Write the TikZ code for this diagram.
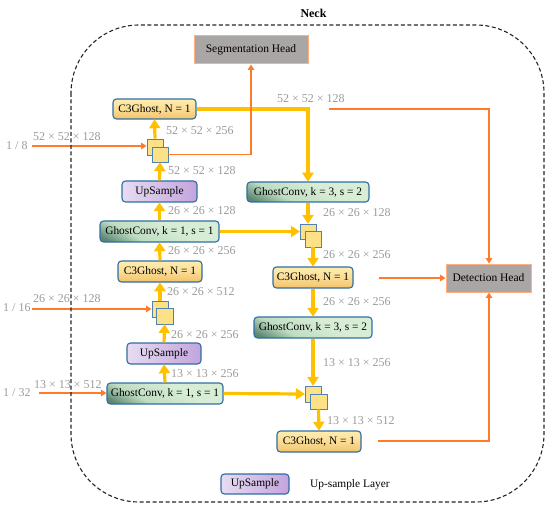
\documentclass[tikz,border=0pt]{standalone}
\usepackage{fontspec}
\setmainfont{Liberation Serif}
\usetikzlibrary{arrows.meta}
\definecolor{yel}{HTML}{FFC000}
\definecolor{ora}{HTML}{FF7A2B}
\definecolor{edgeblue}{HTML}{2F6EA5}
\definecolor{greytxt}{HTML}{9A9A9A}
\definecolor{gA}{HTML}{5A8570}
\definecolor{gB}{HTML}{BFDDC2}
\definecolor{gC}{HTML}{D8EDD6}
\definecolor{oA}{HTML}{F3C36B}
\definecolor{oB}{HTML}{FFEDB0}
\definecolor{pA}{HTML}{C3A4DC}
\definecolor{pB}{HTML}{E6DCF2}
\definecolor{headfill}{HTML}{AAA6A6}
\pgfdeclarehorizontalshading{gshade}{100bp}{color(0bp)=(gA);color(20bp)=(gA);color(36bp)=(gB);color(60bp)=(gC);color(100bp)=(gC)}
\tikzset{
  x=1pt,y=-1pt,
  blockbox/.style={draw=edgeblue,line width=1.1pt,rounded corners=3.5pt,inner sep=0pt,font=\fontsize{11.4}{13}\selectfont,text=black},
  c3box/.style={blockbox,top color=oB,bottom color=oA,middle color=oB!60!oA},
  gcbox/.style={blockbox,shading=gshade,shading angle=62},
  upbox/.style={blockbox,left color=pB,right color=pA},
  headbox/.style={draw=ora!60!white,line width=1pt,fill=headfill,inner sep=0pt,font=\fontsize{11.5}{13}\selectfont},
  sqbox/.style={draw=edgeblue!85!white,line width=.8pt,fill=yellow!55!orange!45!white,inner sep=0pt},
  dimlabel/.style={text=greytxt,inner sep=0pt,anchor=west,font=\fontsize{12}{14}\selectfont},
  yarrow/.style={draw=yel,line width=3.2pt,-{Triangle[length=9pt,width=11pt]},shorten >=-.3pt},
  oarrow/.style={draw=ora,line width=1.7pt,-{Triangle[length=5.5pt,width=6.5pt]}},
}
\newcommand{\blk}[7]{\node[#1,minimum width=#5-#4,minimum height=#7-#6] (#2) at ({(#4+#5)/2},{(#6+#7)/2}) {#3};}
\begin{document}
\begin{tikzpicture}
\useasboundingbox (0,0) rectangle (550,511);
% boxes
\blk{headbox}{seg}{Segmentation Head}{194}{308}{36}{64}
\blk{headbox}{det}{Detection Head}{446}{531}{264}{292}
\blk{c3box}{cA}{C3Ghost, N = 1}{113}{196}{99}{119}
\blk{upbox}{uA}{UpSample}{122}{197}{181}{202}
\blk{gcbox}{gA}{GhostConv, k = 1, s = 1}{100}{219}{221}{242}
\blk{c3box}{cB}{C3Ghost, N = 1}{118}{202}{261}{282}
\blk{upbox}{uB}{UpSample}{127}{201}{343}{364}
\blk{gcbox}{gB}{GhostConv, k = 1, s = 1}{107}{223}{383}{404}
\blk{gcbox}{gR}{GhostConv, k = 3, s = 2}{247}{369}{182}{202}
\blk{c3box}{cR}{C3Ghost, N = 1}{273}{353}{267}{288}
\blk{gcbox}{gS}{GhostConv, k = 3, s = 2}{254}{372}{317}{338}
\blk{c3box}{cS}{C3Ghost, N = 1}{277}{361}{431}{452}
\blk{upbox}{uL}{UpSample}{221}{289}{474}{494}
% concat squares
\blk{sqbox}{qAb}{}{147}{163}{139}{155}
\blk{sqbox}{qAf}{}{152}{168}{147}{162}
\blk{sqbox}{qBb}{}{152}{168}{301}{317}
\blk{sqbox}{qBf}{}{156.5}{173}{308}{324}
\blk{sqbox}{qRb}{}{300}{316}{224}{239}
\blk{sqbox}{qRf}{}{305}{321}{231}{247}
\blk{sqbox}{qSb}{}{305}{321}{386}{402}
\blk{sqbox}{qSf}{}{310}{327}{394}{409}
% free ends
\coordinate (inA) at (32,146);
\coordinate (inB) at (32,309);
\coordinate (inC) at (39,393);
\coordinate (turnY) at (308,109);
\coordinate (oTopS) at (329,109);
\coordinate (oTopT) at (489,109);
\coordinate (oMid) at (379,278);
\coordinate (oBotS) at (378,441);
\coordinate (oBotT) at (489,441);
\coordinate (oSeg) at (251,154.5);
% yellow connectors
\draw[yarrow] (qAb.north) -- (cA.south);
\draw[yarrow] (uA.north) -- (qAf.south);
\draw[yarrow] (gA.north) -- (uA.south);
\draw[yarrow] (cB.north) -- (gA.south);
\draw[yarrow] (qBb.north) -- (cB.south);
\draw[yarrow] (uB.north) -- (qBf.south);
\draw[yarrow] (gB.north) -- (uB.south);
\draw[yarrow,line join=miter] (cA.east) -- (turnY) -- (gR.north);
\draw[yarrow] (gA.east) -- (qRb.west);
\draw[yarrow] (gB.east) -- (qSb.west);
\draw[yarrow] (gR.south) -- (qRb.north);
\draw[yarrow] (qRf.south) -- (cR.north);
\draw[yarrow] (cR.south) -- (gS.north);
\draw[yarrow] (gS.south) -- (qSb.north);
\draw[yarrow] (qSf.south) -- (cS.north);
% orange connectors
\draw[oarrow] (inA) -- (inA -| qAb.west);
\draw[oarrow] (inB) -- (inB -| qBb.west);
\draw[oarrow] (inC) -- (inC -| gB.west);
\draw[oarrow] (qAf.east) -- (oSeg) -- (oSeg |- seg.south);
\draw[oarrow] (oTopS) -- (oTopT) -- (oTopT |- det.north);
\draw[oarrow] (oMid) -- (oMid -| det.west);
\draw[oarrow] (oBotS) -- (oBotT) -- (oBotT |- det.south);
% labels
\node[dimlabel] (l1) at (33,137) {52 × 52 × 128};
\node[dimlabel] (l2) at (166,131) {52 × 52 × 256};
\node[dimlabel] (l3) at (168,171) {52 × 52 × 128};
\node[dimlabel] (l4) at (168,211) {26 × 26 × 128};
\node[dimlabel] (l5) at (168,251) {26 × 26 × 256};
\node[dimlabel] (l6) at (167,292) {26 × 26 × 512};
\node[dimlabel] (l7) at (33,299) {26 × 26 × 128};
\node[dimlabel] (l8) at (171,335) {26 × 26 × 256};
\node[dimlabel] (l9) at (171,374) {13 × 13 × 256};
\node[dimlabel] (l10) at (34,385) {13 × 13 × 512};
\node[dimlabel] (l11) at (277,99) {52 × 52 × 128};
\node[dimlabel] (l12) at (323,213) {26 × 26 × 128};
\node[dimlabel] (l13) at (323,255) {26 × 26 × 256};
\node[dimlabel] (l14) at (323,302) {26 × 26 × 256};
\node[dimlabel] (l15) at (323,363) {13 × 13 × 256};
\node[dimlabel] (l16) at (327,421) {13 × 13 × 512};
\node[dimlabel] (s1) at (6,146) {1 / 8};
\node[dimlabel] (s2) at (3,308) {1 / 16};
\node[dimlabel] (s3) at (3,393) {1 / 32};
\node[inner sep=0pt,font=\fontsize{12}{14}\selectfont\bfseries] (neck) at (313.5,13) {Neck};
\node[inner sep=0pt,anchor=west,font=\fontsize{11.4}{13}\selectfont] (leg) at (310,485) {Up-sample Layer};
% neck frame
\draw[black!85,line width=1.1pt,dash pattern=on 4pt off 2.5pt,rounded corners=68pt] (71,25) rectangle (544,502);
\end{tikzpicture}
\end{document}
